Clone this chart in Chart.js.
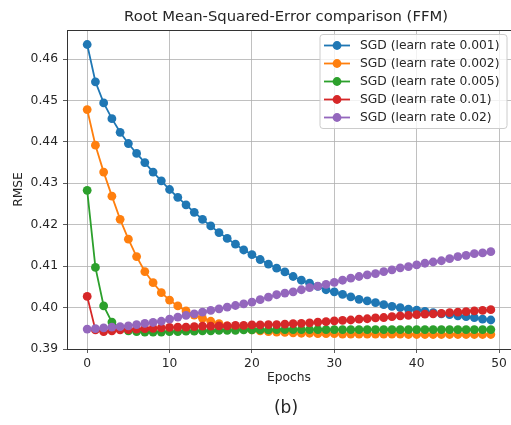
<!DOCTYPE html>
<html>
<head>
<meta charset="utf-8">
<title>RMSE comparison (FFM)</title>
<script src="https://cdn.jsdelivr.net/npm/chart.js@4.4.1/dist/chart.umd.min.js"></script>
<style>
    html, body { margin: 0; padding: 0; background: #fff; overflow: hidden; }
</style>
</head>
<body>
<canvas id="rmseChart" width="511" height="425"></canvas>
<script>
// Chart data
const epochs = [0, 1, 2, 3, 4, 5, 6, 7, 8, 9, 10, 11, 12, 13, 14, 15, 16, 17, 18, 19,
    20, 21, 22, 23, 24, 25, 26, 27, 28, 29, 30, 31, 32, 33, 34, 35, 36, 37, 38, 39,
    40, 41, 42, 43, 44, 45, 46, 47, 48, 49];

const seriesLabels = ['SGD (learn rate 0.001)', 'SGD (learn rate 0.002)', 'SGD (learn rate 0.005)',
    'SGD (learn rate 0.01)', 'SGD (learn rate 0.02)'];

const rmse001 = [0.4635, 0.4545, 0.4494, 0.4456, 0.4423, 0.4396, 0.4372, 0.4350, 0.4327, 0.4306,
    0.4285, 0.4266, 0.4248, 0.4230, 0.4213, 0.4197, 0.4181, 0.4167, 0.4153, 0.4139,
    0.4128, 0.4116, 0.4105, 0.4095, 0.4086, 0.4075, 0.4066, 0.4059, 0.4051, 0.4043,
    0.4038, 0.4032, 0.4026, 0.4020, 0.4016, 0.4012, 0.4007, 0.4003, 0.4000, 0.3996,
    0.3994, 0.3991, 0.3988, 0.3985, 0.3983, 0.3980, 0.3978, 0.3976, 0.3972, 0.3970];

const rmse002 = [0.4478, 0.4392, 0.4327, 0.4269, 0.4213, 0.4165, 0.4123, 0.4087, 0.4060, 0.4036,
    0.4018, 0.4004, 0.3992, 0.3982, 0.3974, 0.3967, 0.3961, 0.3956, 0.3952, 0.3949,
    0.3946, 0.3944, 0.3942, 0.3941, 0.3940, 0.3939, 0.3938, 0.3938, 0.3937, 0.3937,
    0.3937, 0.3936, 0.3936, 0.3936, 0.3936, 0.3936, 0.3936, 0.3936, 0.3936, 0.3935,
    0.3935, 0.3935, 0.3935, 0.3935, 0.3935, 0.3935, 0.3935, 0.3935, 0.3935, 0.3935];

const rmse005 = [0.4283, 0.4097, 0.4004, 0.3965, 0.3950, 0.3944, 0.3942, 0.3941, 0.3941, 0.3941,
    0.3942, 0.3942, 0.3943, 0.3943, 0.3944, 0.3944, 0.3945, 0.3945, 0.3945, 0.3946,
    0.3946, 0.3946, 0.3946, 0.3947, 0.3947, 0.3947, 0.3947, 0.3947, 0.3947, 0.3947,
    0.3947, 0.3947, 0.3947, 0.3947, 0.3947, 0.3947, 0.3947, 0.3947, 0.3947, 0.3947,
    0.3947, 0.3947, 0.3947, 0.3947, 0.3947, 0.3947, 0.3947, 0.3947, 0.3947, 0.3947];

const rmse01 = [0.4027, 0.3946, 0.3942, 0.3944, 0.3946, 0.3947, 0.3948, 0.3949, 0.3950, 0.3951,
    0.3952, 0.3953, 0.3953, 0.3954, 0.3955, 0.3955, 0.3956, 0.3956, 0.3957, 0.3957,
    0.3958, 0.3958, 0.3959, 0.3959, 0.3960, 0.3961, 0.3962, 0.3963, 0.3965, 0.3966,
    0.3968, 0.3969, 0.3970, 0.3972, 0.3973, 0.3975, 0.3976, 0.3978, 0.3980, 0.3981,
    0.3983, 0.3984, 0.3985, 0.3986, 0.3988, 0.3989, 0.3990, 0.3992, 0.3993, 0.3995];

const rmse02 = [0.3948, 0.3949, 0.3951, 0.3953, 0.3954, 0.3956, 0.3959, 0.3962, 0.3964, 0.3967,
    0.3972, 0.3977, 0.3981, 0.3985, 0.3989, 0.3993, 0.3997, 0.4001, 0.4005, 0.4009,
    0.4013, 0.4019, 0.4025, 0.4031, 0.4035, 0.4038, 0.4043, 0.4048, 0.4052, 0.4056,
    0.4061, 0.4066, 0.4071, 0.4075, 0.4079, 0.4082, 0.4087, 0.4091, 0.4096, 0.4099,
    0.4103, 0.4107, 0.4110, 0.4113, 0.4118, 0.4123, 0.4126, 0.4130, 0.4132, 0.4135];

const xTicks = [0, 10, 20, 30, 40, 50];
const yTicks = [0.39, 0.40, 0.41, 0.42, 0.43, 0.44, 0.45, 0.46];

const colors = ['#1f77b4', '#ff7f0e', '#2ca02c', '#d62728', '#9467bd'];
const allSeries = [rmse001, rmse002, rmse005, rmse01, rmse02];

const FONT = "'DejaVu Sans', sans-serif";
const TEXT = '#262626';

// Title, caption, top spine and legend box (legend sits inside the plot area)
const decorations = {
    id: 'decorations',
    afterDraw(chart) {
        const ctx = chart.ctx;
        const area = chart.chartArea;
        ctx.save();

        // top spine
        ctx.strokeStyle = '#333';
        ctx.lineWidth = 1;
        ctx.beginPath();
        ctx.moveTo(area.left, area.top + 0.5);
        ctx.lineTo(area.right, area.top + 0.5);
        ctx.stroke();

        // title
        ctx.fillStyle = TEXT;
        ctx.font = '14.8px ' + FONT;
        ctx.textAlign = 'center';
        ctx.textBaseline = 'middle';
        ctx.fillText('Root Mean-Squared-Error comparison (FFM)', 286, 17);

        // caption
        ctx.font = '17px ' + FONT;
        ctx.fillText('(b)', 286, 409);

        // legend
        const lx = 320, ly = 34.5, lw = 187, lh = 94;
        ctx.beginPath();
        ctx.roundRect(lx, ly, lw, lh, 3);
        ctx.fillStyle = 'rgba(255,255,255,0.8)';
        ctx.fill();
        ctx.strokeStyle = '#cccccc';
        ctx.stroke();

        ctx.font = '12.3px ' + FONT;
        ctx.textAlign = 'left';
        chart.data.datasets.forEach(function(ds, i) {
            const y = 45.5 + i * 18;
            ctx.strokeStyle = ds.borderColor;
            ctx.lineWidth = 1.8;
            ctx.beginPath();
            ctx.moveTo(324, y);
            ctx.lineTo(350, y);
            ctx.stroke();
            ctx.fillStyle = ds.borderColor;
            ctx.beginPath();
            ctx.arc(337, y, 4.4, 0, Math.PI * 2);
            ctx.fill();
            ctx.fillStyle = TEXT;
            ctx.fillText(ds.label, 360, y + 0.5);
        });
        ctx.restore();
    }
};

function initChart() {
    const ctx = document.getElementById('rmseChart').getContext('2d');
    const datasets = allSeries.map(function(values, i) {
        return {
            label: seriesLabels[i],
            data: epochs.map(function(e, j) { return { x: e, y: values[j] }; }),
            borderColor: colors[i],
            backgroundColor: colors[i],
            borderWidth: 1.8,
            pointRadius: 4.4,
            pointBorderWidth: 0,
            pointHoverRadius: 4.4,
            tension: 0,
            order: allSeries.length - i
        };
    });

    new Chart(ctx, {
        type: 'line',
        data: { datasets: datasets },
        options: {
            responsive: false,
            animation: false,
            devicePixelRatio: 1,
            // plot area runs slightly past the right edge, as in the cropped original
            layout: { autoPadding: false, padding: { top: 30, right: -2, bottom: 36, left: 0 } },
            plugins: {
                legend: { display: false },
                title: { display: false },
                tooltip: { enabled: false }
            },
            scales: {
                x: {
                    type: 'linear',
                    min: -2.45,
                    max: 51.45,
                    afterBuildTicks: function(scale) {
                        scale.ticks = xTicks.map(function(v) { return { value: v }; });
                    },
                    afterFit: function(scale) {
                        scale.height = 40;
                        scale.paddingLeft = 0;
                        scale.paddingRight = 0;
                    },
                    grid: { color: '#b0b0b0', lineWidth: 0.8, tickColor: '#333', tickLength: 4 },
                    border: { display: true, color: '#333', width: 1 },
                    ticks: { color: TEXT, font: { family: FONT, size: 12.3 }, padding: 3, maxRotation: 0 },
                    title: { display: true, text: 'Epochs', color: TEXT, font: { family: FONT, size: 12.3 }, padding: 4 }
                },
                y: {
                    min: 0.39,
                    max: 0.467,
                    afterBuildTicks: function(scale) {
                        scale.ticks = yTicks.map(function(v) { return { value: v }; });
                    },
                    afterFit: function(scale) {
                        scale.width = 67;
                        scale.paddingTop = 0;
                        scale.paddingBottom = 0;
                    },
                    grid: { color: '#b0b0b0', lineWidth: 0.8, tickColor: '#333', tickLength: 4 },
                    border: { display: true, color: '#333', width: 1 },
                    ticks: {
                        color: TEXT,
                        font: { family: FONT, size: 12.3 },
                        padding: 5,
                        callback: function(v) { return v.toFixed(2); }
                    },
                    title: { display: true, text: 'RMSE', color: TEXT, font: { family: FONT, size: 12.3 }, padding: 11 }
                }
            }
        },
        plugins: [decorations]
    });
}

document.addEventListener('DOMContentLoaded', initChart);
</script>
</body>
</html>
